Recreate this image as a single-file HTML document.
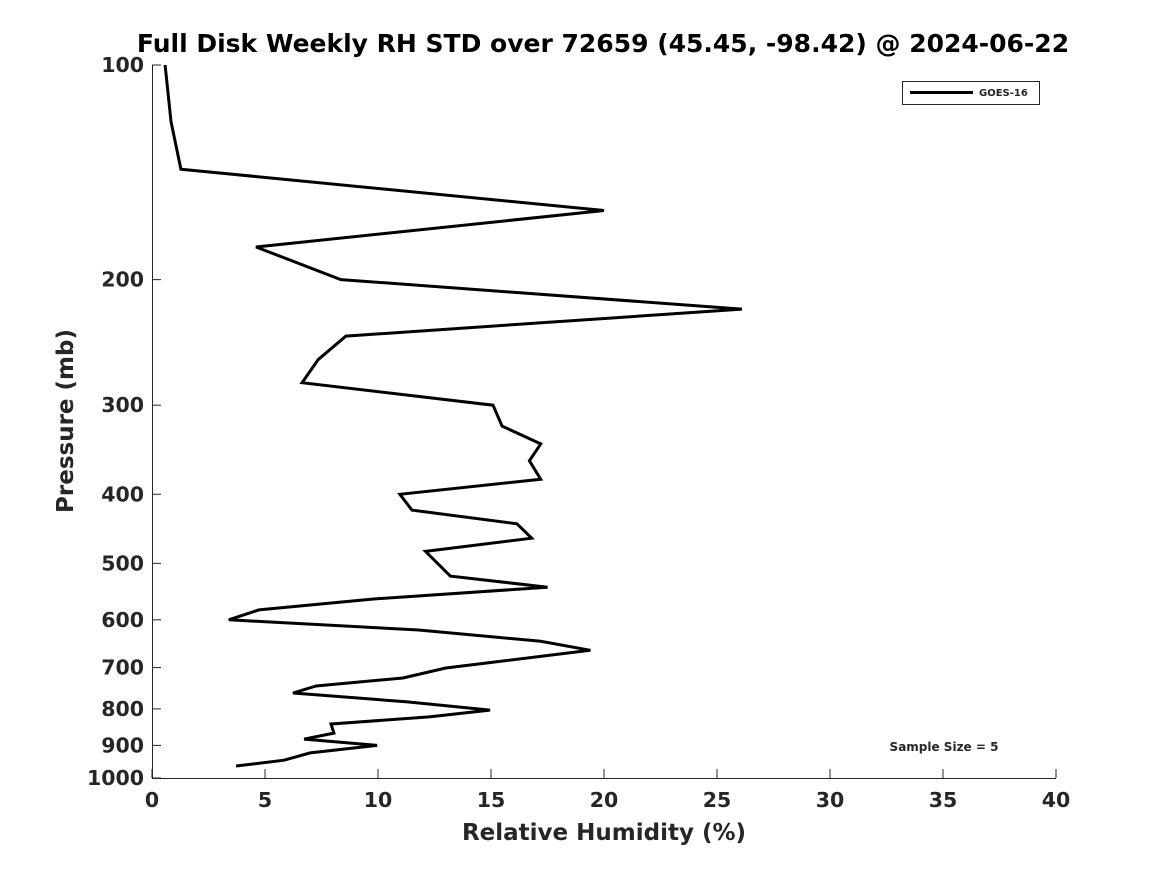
<!DOCTYPE html>
<html><head><meta charset="utf-8"><style>
body{margin:0;background:#fff;}
svg text{font-family:"DejaVu Sans","Liberation Sans",sans-serif;font-weight:bold;fill:#262626;}
</style></head><body>
<svg id="chart" width="1167" height="875" viewBox="0 0 1167 875" xmlns="http://www.w3.org/2000/svg">
<rect width="1167" height="875" fill="#fff"/>
<text x="603" y="52" font-size="25" text-anchor="middle" fill="#000" style="fill:#000">Full Disk Weekly RH STD over 72659 (45.45, -98.42) @ 2024-06-22</text>
<g id="axes"></g>
<g id="series"></g>
<g>
<rect x="902.5" y="81.5" width="137" height="23" fill="#fff" stroke="#262626" stroke-width="1"/>
<line x1="910" y1="92.5" x2="973" y2="92.5" stroke="#000" stroke-width="3"/>
<text x="979" y="96" font-size="10">GOES-16</text>
</g>
<text x="944" y="751" font-size="12" text-anchor="middle" fill="#000">Sample Size = 5</text>
<text x="604" y="840" font-size="23" text-anchor="middle">Relative Humidity (%)</text>
<text transform="translate(73,421) rotate(-90)" font-size="23" text-anchor="middle">Pressure (mb)</text>
</svg>
<script>
const rhValues=[0.58,0.84,1.28,20.0,4.6,8.36,26.1,8.58,7.35,6.64,15.09,15.49,17.2,16.7,17.2,10.97,11.5,16.15,16.8,12.1,13.2,17.5,9.8,4.73,3.4,11.8,17.2,19.4,13.0,11.1,7.26,6.24,11.3,14.96,12.26,7.92,8.05,6.73,9.96,7.0,5.84,3.72];
const pressures=[100,120,140,160,180,200,220,240,259,279,300,321,340,359,381,400,421,440,461,481,521,540,561,581,600,620,643,662,701,724,743,760,782,803,821,840,865,882,900,922,944,962];
const xTicks=[0,5,10,15,20,25,30,35,40];
const yTicks=[100,200,300,400,500,600,700,800,900,1000];
const X0=152,X1=1056,Y0=65,Y1=778;
const xs=v=>X0+(v-0)/(40-0)*(X1-X0);
const ys=p=>Y0+(Math.log10(p)-2)*(Y1-Y0);
const NS="http://www.w3.org/2000/svg";
const ax=document.getElementById('axes');
function mk(t,a,parent){const e=document.createElementNS(NS,t);for(const k in a)e.setAttribute(k,a[k]);parent.appendChild(e);return e;}
const xl=mk('line',{x1:X0,y1:Y1+0.5,x2:X1,y2:Y1+0.5,stroke:'#262626','stroke-width':1},ax);


const yl=mk('line',{x1:X0+0.5,y1:Y0,x2:X0+0.5,y2:Y1,stroke:'#262626','stroke-width':1},ax);


xTicks.forEach(v=>{
 const x=xs(v);
 mk('line',{x1:x,y1:Y1,x2:x,y2:Y1-9,stroke:'#262626'},ax);
 const t=mk('text',{x:x,y:Y1+29,'font-size':20.5,'text-anchor':'middle'},ax);
 t.textContent=v;
 
 
});
yTicks.forEach(p=>{
 const y=ys(p);
 mk('line',{x1:X0,y1:y,x2:X0+9,y2:y,stroke:'#262626'},ax);
 const t=mk('text',{x:X0-8,y:y+7,'font-size':20.5,'text-anchor':'end'},ax);
 t.textContent=p;
 
 
});
const pts=rhValues.map((v,i)=>xs(v).toFixed(1)+','+ys(pressures[i]).toFixed(1)).join(' ');
const pl=mk('polyline',{points:pts,fill:'none',stroke:'#000','stroke-width':3,'stroke-linejoin':'miter'},document.getElementById('series'));


</script>
</body></html>
